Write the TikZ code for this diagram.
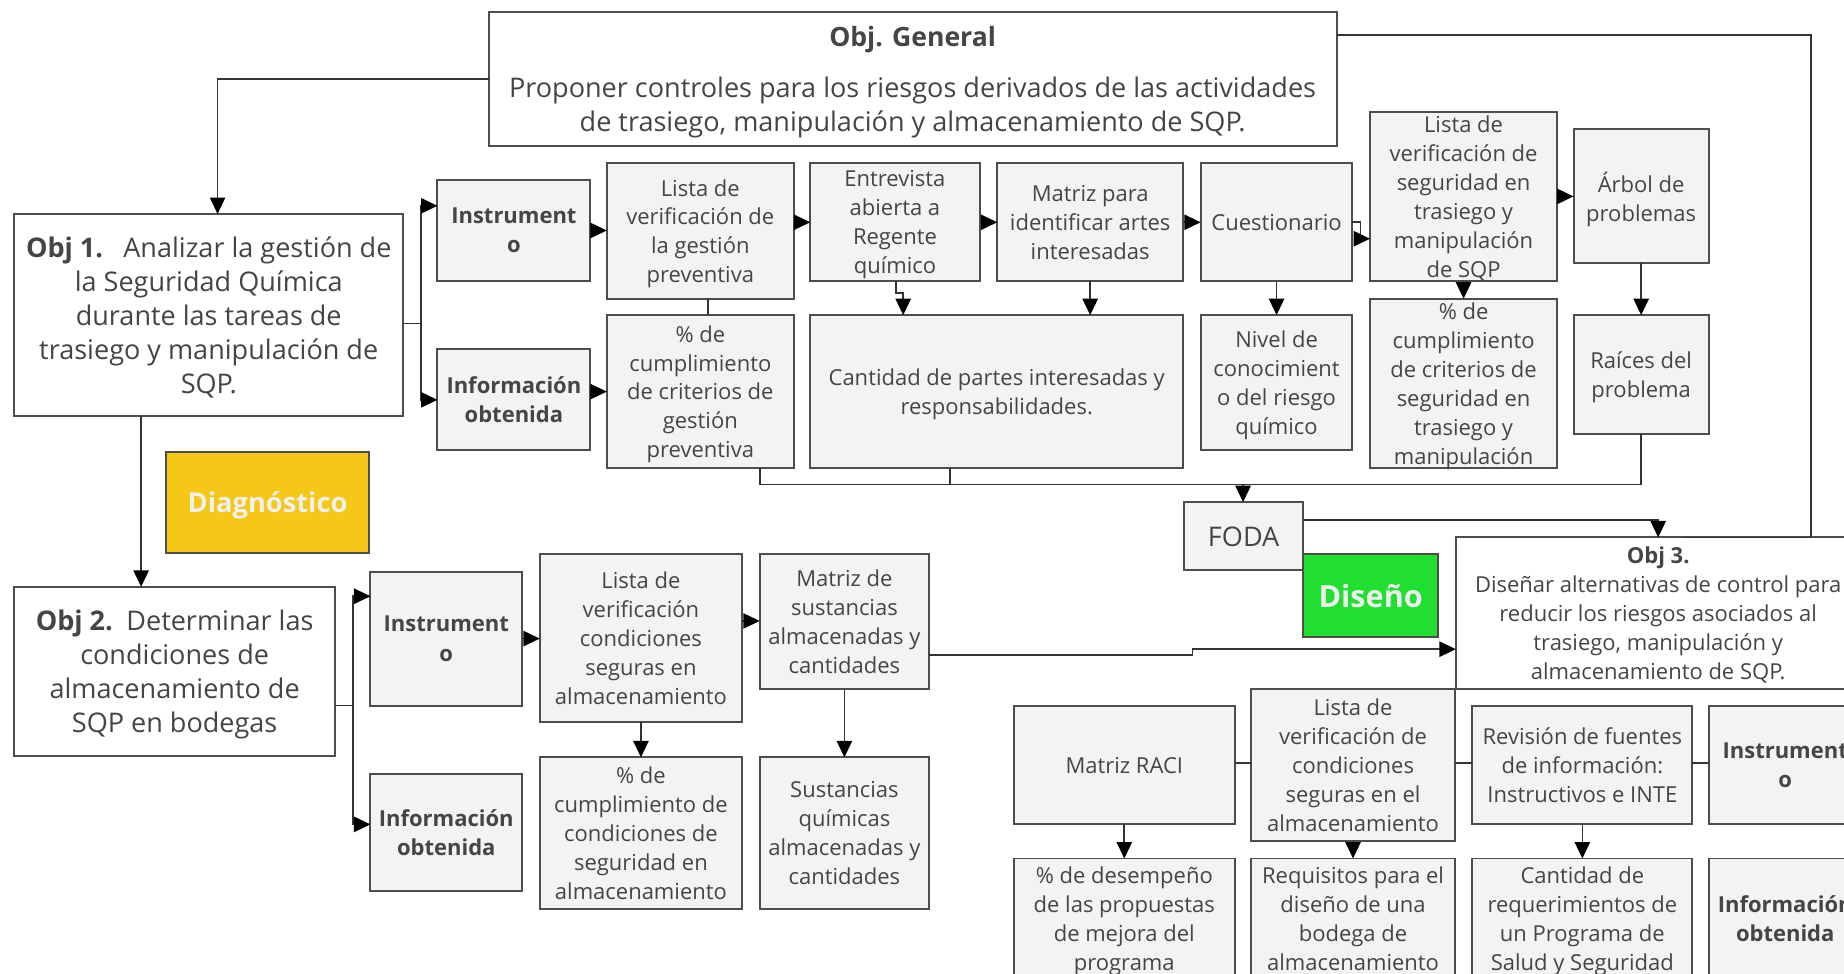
\documentclass[tikz,border=0pt]{standalone}
\usepackage{fontspec}
\setmainfont{Open Sans}
\usetikzlibrary{arrows.meta}

\definecolor{boxfill}{HTML}{F3F3F3}
\definecolor{edge}{HTML}{4D4D4D}
\definecolor{ink}{HTML}{454545}
\definecolor{wire}{HTML}{333333}
\definecolor{diagyellow}{HTML}{F5C818}
\definecolor{designgreen}{HTML}{20DF30}

% box from its two corners: name, x1, y1, x2, y2, style, text
\newcommand{\putbox}[7]{%
  \node[#6, minimum width={((#4)-(#2))*0.5pt}, minimum height={((#5)-(#3))*0.5pt}]
    (#1) at ({((#2)+(#4))/2},{((#3)+(#5))/2}) {#7};}

\tikzset{
  base/.style={draw=edge, line width=0.85pt, inner sep=0pt, outer sep=0pt,
    align=center, text=ink, text depth=0pt},
  gbox/.style={base, fill=boxfill, font=\fontsize{9.35}{12.3}\selectfont},
  gboldbox/.style={base, fill=boxfill, font=\fontsize{9.35}{12.4}\selectfont\bfseries},
  wbox/.style={base, fill=white, font=\fontsize{11.5}{14.5}\selectfont},
  obj3box/.style={base, fill=white, font=\fontsize{9.35}{12.3}\selectfont},
  fodabox/.style={base, fill=boxfill, font=\fontsize{11.5}{13}\selectfont},
  diagbox/.style={base, fill=diagyellow, text=white!94!black,
    font=\fontsize{11.6}{13}\selectfont\bfseries},
  greenbox/.style={base, fill=designgreen, text=white!93!black,
    font=\fontsize{13}{15}\selectfont\bfseries},
  plaintext/.style={inner sep=0pt, align=center, text=ink, text depth=0pt},
  link/.style={draw=wire, line width=0.7pt},
  arr/.style={link, -{Triangle[length=7pt, width=6.5pt, color=black]}},
}

\begin{document}
\begin{tikzpicture}[x=0.5pt, y=-0.5pt]
\path[use as bounding box] (0,0) rectangle (1568,828);
\clip (0,0) rectangle (1568,828);
\fill[white] (0,0) rectangle (1568,828);

% general objective
\putbox{objgen}{416}{10}{1137}{124}{wbox}{}
\node[plaintext, font=\fontsize{11.3}{14.5}\selectfont\bfseries] (gtitle) at (776,31) {Obj. General};
\node[plaintext, font=\fontsize{11.5}{14.5}\selectfont] (gbody) at (776,89)
  {Proponer controles para los riesgos derivados de las actividades\\de trasiego, manipulación y almacenamiento de SQP.};

% objective 1
\putbox{obj1}{12}{182}{343}{354}{wbox}{\textbf{Obj 1.}\hspace{0.75em}Analizar la gestión de\\la Seguridad Química\\durante las tareas de\\trasiego y manipulación de\\SQP.}
\putbox{ins1}{372}{153}{502}{239}{gboldbox}{Instrument\\o}
\putbox{info1}{372}{297}{502}{383}{gboldbox}{Información\\obtenida}
\putbox{lista1}{516}{139}{675}{254}{gbox}{Lista de\\verificación de\\la gestión\\preventiva}
\putbox{entrev}{689}{139}{833}{239}{gbox}{Entrevista\\abierta a\\Regente\\químico}
\putbox{mpartes}{848}{139}{1006}{239}{gbox}{Matriz para\\identificar artes\\interesadas}
\putbox{cuest}{1021}{139}{1150}{239}{gbox}{Cuestionario}
\putbox{lsqp}{1165}{95}{1324}{239}{gbox}{Lista de\\verificación de\\seguridad en\\trasiego y\\manipulación\\de SQP}
\putbox{arbol}{1338}{110}{1453}{224}{gbox}{Árbol de\\problemas}
\putbox{pct1}{516}{268}{675}{398}{gbox}{\% de\\cumplimiento\\de criterios de\\gestión\\preventiva}
\putbox{cantp}{689}{268}{1006}{398}{gbox}{Cantidad de partes interesadas y\\responsabilidades.}
\putbox{nivel}{1021}{268}{1150}{383}{gbox}{Nivel de\\conocimient\\o del riesgo\\químico}
\putbox{pctsqp}{1165}{254}{1324}{398}{gbox}{\% de\\cumplimiento\\de criterios de\\seguridad en\\trasiego y\\manipulación}
\putbox{raices}{1338}{268}{1453}{369}{gbox}{Raíces del\\problema}

% phase labels and SWOT
\putbox{diag}{141}{384}{314}{470}{diagbox}{Diagnóstico}
\putbox{foda}{1007}{427}{1108}{485}{fodabox}{FODA}
\putbox{diseno}{1108}{471}{1223}{542}{greenbox}{Diseño}

% objective 3
\putbox{obj3}{1238}{457}{1582}{586}{obj3box}{\textbf{Obj 3.}\\Diseñar alternativas de control para\\reducir los riesgos asociados al\\trasiego, manipulación y\\almacenamiento de SQP.}

% objective 2
\putbox{obj2}{12}{499}{285}{643}{wbox}{\textbf{Obj 2.}\enspace Determinar las\\condiciones de\\almacenamiento de\\SQP en bodegas}
\putbox{ins2}{315}{486}{444}{600}{gboldbox}{Instrument\\o}
\putbox{info2}{315}{658}{444}{758}{gboldbox}{Información\\obtenida}
\putbox{lista2}{459}{471}{631}{614}{gbox}{Lista de\\verificación\\condiciones\\seguras en\\almacenamiento}
\putbox{msust}{646}{471}{790}{586}{gbox}{Matriz de\\sustancias\\almacenadas y\\cantidades}
\putbox{pct2}{459}{644}{631}{773}{gbox}{\% de\\cumplimiento de\\condiciones de\\seguridad en\\almacenamiento}
\putbox{sust}{646}{644}{790}{773}{gbox}{Sustancias\\químicas\\almacenadas y\\cantidades}

% objective 3 instruments and results
\putbox{raci}{862}{600}{1050}{701}{gbox}{Matriz RACI}
\putbox{lista3}{1064}{586}{1237}{715}{gbox}{Lista de\\verificación de\\condiciones\\seguras en el\\almacenamiento}
\putbox{rev}{1252}{600}{1439}{701}{gbox}{Revisión de fuentes\\de información:\\Instructivos e INTE}
\putbox{ins3}{1453}{600}{1583}{701}{gboldbox}{Instrument\\o}
\putbox{pctdes}{862}{730}{1050}{832}{gbox}{\% de desempeño\\de las propuestas\\de mejora del\\programa}
\putbox{req}{1064}{730}{1237}{832}{gbox}{Requisitos para el\\diseño de una\\bodega de\\almacenamiento}
\putbox{cantreq}{1252}{730}{1439}{832}{gbox}{Cantidad de\\requerimientos de\\un Programa de\\Salud y Seguridad}
\putbox{info3}{1453}{730}{1583}{832}{gboldbox}{Información\\obtenida}

% ---- connectors ----
% general objective to objectives 1 and 3
\draw[arr] (objgen.west) -| (obj1.north -| 185,0);
\draw[link] (objgen.east |- 0,30) -| (obj3.north -| 1540,0) -- (obj3.north -| 1432,0);

% objective 1 branches
\coordinate (f1) at (358,275);
\draw[link] (obj1.east |- f1) -- (f1);
\draw[arr] (f1) |- (ins1.west |- 0,175);
\draw[arr] (f1) |- (info1.west);
\draw[arr] (ins1.east) -- (lista1.west |- ins1.east);
\draw[arr] (lista1.east |- entrev.west) -- (entrev.west);
\draw[arr] (entrev.east) -- (mpartes.west);
\draw[arr] (mpartes.east) -- (cuest.west);
\coordinate (c1) at (1157,189);
\draw[arr] (cuest.east) -- (c1) |- (lsqp.west |- 0,203);
\draw[arr] (lsqp.east |- arbol.west) -- (arbol.west);
\draw[arr] (info1.east |- 0,333) -- (pct1.west |- 0,333);
\draw[link] (lista1.south -| 602,0) -- (pct1.north -| 602,0);
\coordinate (e1) at (762,249);
\coordinate (e2) at (768,249);
\draw[arr] (entrev.south -| e1) -- (e1) -- (e2) -- (cantp.north -| e2);
\draw[arr] (mpartes.south) -- (cantp.north -| mpartes.south);
\draw[arr] (cuest.south) -- (nivel.north);
\draw[arr] (lsqp.south) -- (pctsqp.north);
\draw[arr] (arbol.south) -- (raices.north);

% results merge into SWOT
\coordinate (m1) at (1057,412);
\draw[link] (pct1.south -| 646,0) |- (m1);
\draw[link] (cantp.south -| 808,0) -- (808,412);
\draw[link] (raices.south) |- (m1);
\draw[arr] (m1) -- (foda.north -| m1);
\draw[arr] (foda.east |- 0,442) -| (obj3.north);

% objective 1 to objective 2
\draw[arr] (obj1.south -| 120,0) -- (obj2.north -| 120,0);

% objective 2 branches
\coordinate (f2) at (300,600);
\draw[link] (obj2.east |- f2) -- (f2);
\draw[arr] (f2) |- (ins2.west |- 0,507);
\draw[arr] (f2) |- (info2.west |- 0,701);
\draw[arr] (ins2.east) -- (lista2.west |- ins2.east);
\draw[arr] (lista2.east |- 0,528) -- (msust.west |- 0,528);
\draw[arr] (lista2.south -| 545,0) -- (pct2.north -| 545,0);
\draw[arr] (msust.south -| 718,0) -- (sust.north -| 718,0);
\coordinate (s1) at (1014,557);
\coordinate (s2) at (1014,552);
\draw[arr] (msust.east |- s1) -- (s1) -- (s2) -- (obj3.west |- s2);

% objective 3 row
\draw[link] (raci.east |- 0,649) -- (lista3.west |- 0,649);
\draw[link] (lista3.east |- 0,649) -- (rev.west |- 0,649);
\draw[link] (rev.east |- 0,649) -- (ins3.west |- 0,649);
\draw[arr] (raci.south) -- (pctdes.north);
\draw[arr] (lista3.south) -- (req.north);
\draw[arr] (rev.south) -- (cantreq.north);
\end{tikzpicture}
\end{document}
